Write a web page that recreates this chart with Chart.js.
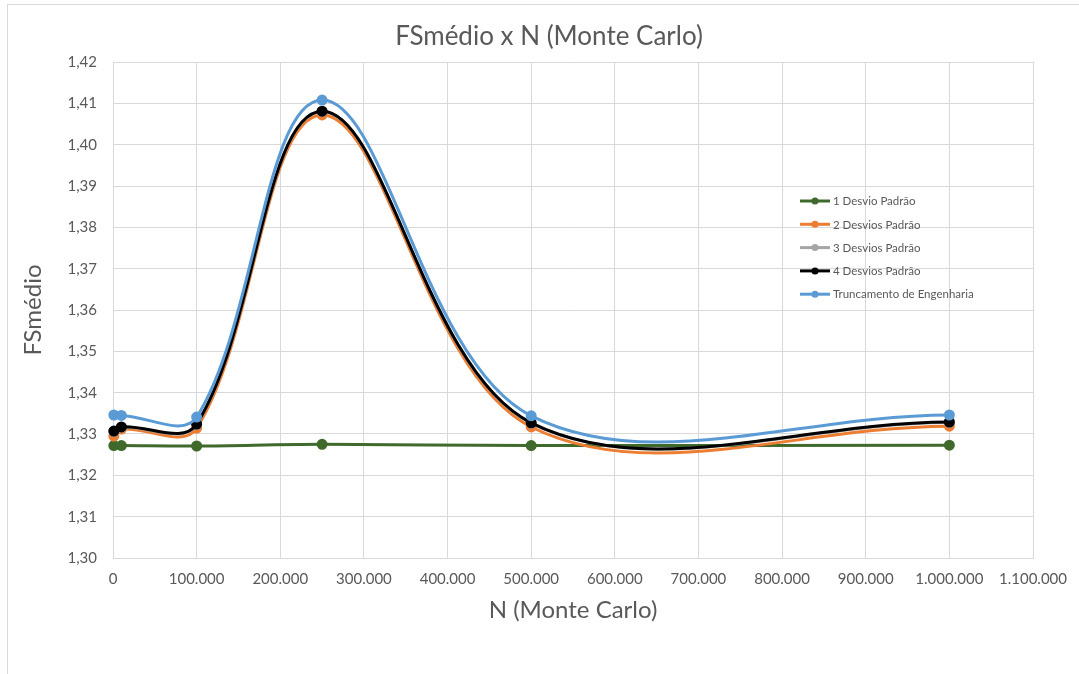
<!DOCTYPE html>
<html>
<head>
<meta charset="utf-8">
<script src="https://cdn.jsdelivr.net/npm/chart.js@4"></script>
<style>
  body { margin: 0; background: #fff; }
  #wrap { position: relative; width: 1079px; height: 674px; }
  #frame { position: absolute; left: 7px; top: 4px; width: 1100px; height: 700px;
           border-left: 1px solid #d9d9d9; border-top: 1px solid #d9d9d9; }
</style>
</head>
<body>
<div id="wrap">
  <div id="frame"></div>
  <canvas id="chart" width="1079" height="674"></canvas>
</div>
<script>
// DATA
const nValues = [1000, 10000, 100000, 250000, 500000, 1000000];
const seriesNames = ["1 Desvio Padrão", "2 Desvios Padrão", "3 Desvios Padrão", "4 Desvios Padrão", "Truncamento de Engenharia"];
const umDesvio = [1.3272, 1.3272, 1.3271, 1.3275, 1.3272, 1.3273];
const doisDesvios = [1.3295, 1.3312, 1.3314, 1.4072, 1.3317, 1.3319];
const tresDesvios = [1.3306, 1.3316, 1.3323, 1.4080, 1.3326, 1.3328];
const quatroDesvios = [1.3307, 1.3317, 1.3324, 1.4081, 1.3327, 1.3329];
const truncamento = [1.3346, 1.3345, 1.3341, 1.4108, 1.3344, 1.3346];
const seriesColors = ["#3f6a2c", "#ED7D31", "#A5A5A5", "#000000", "#5B9BD5"];

const allSeries = [umDesvio, doisDesvios, tresDesvios, quatroDesvios, truncamento];
const textColor = "#595959";
const fontName = "Lato";

const toPoints = (vals) => vals.map((v, i) => ({x: nValues[i], y: v}));

const fmtThousands = (v) => String(Math.round(v)).replace(/\B(?=(\d{3})+(?!\d))/g, ".");

// legend drawn inside the plot, like the Excel one
const insideLegend = {
  id: "insideLegend",
  afterDraw(chart) {
    const ctx = chart.ctx;
    const area = chart.chartArea;
    const x0 = area.left + 687;
    let y = area.top + 139;
    ctx.save();
    ctx.font = "11.5px " + fontName;
    ctx.textBaseline = "middle";
    chart.data.datasets.forEach(ds => {
      ctx.strokeStyle = ds.borderColor;
      ctx.lineWidth = 3;
      ctx.beginPath();
      ctx.moveTo(x0, y);
      ctx.lineTo(x0 + 30, y);
      ctx.stroke();
      ctx.fillStyle = ds.borderColor;
      ctx.beginPath();
      ctx.arc(x0 + 15, y, 3.5, 0, Math.PI * 2);
      ctx.fill();
      ctx.fillStyle = textColor;
      ctx.fillText(ds.label, x0 + 33, y + 0.5);
      y += 23.3;
    });
    ctx.restore();
  }
};

const datasets = allSeries.map((vals, i) => ({
  label: seriesNames[i],
  data: toPoints(vals),
  borderColor: seriesColors[i],
  backgroundColor: seriesColors[i],
  borderWidth: 3,
  pointRadius: 4,
  pointHoverRadius: 4,
  tension: 0.36,
  clip: false,
  order: allSeries.length - i
}));

new Chart("chart", {
  type: "line",
  data: { datasets: datasets },
  plugins: [insideLegend],
  options: {
    responsive: false,
    animation: false,
    layout: { padding: { left: 19, right: 0, top: 0, bottom: 0 } },
    plugins: {
      legend: { display: false },
      tooltip: { enabled: false },
      title: {
        display: true,
        text: "FSmédio x N (Monte Carlo)",
        color: textColor,
        font: { family: fontName, size: 26, weight: "normal", lineHeight: 1.1 },
        padding: { top: 22.7, bottom: 10.7 }
      }
    },
    scales: {
      x: {
        type: "linear",
        min: 0,
        max: 1100000,
        afterFit: s => { s.height = 116; s.paddingRight = 46; },
        grid: { color: "#d9d9d9", drawTicks: false },
        border: { color: "#d9d9d9" },
        ticks: {
          stepSize: 100000,
          padding: 12,
          color: textColor,
          font: { family: fontName, size: 15 },
          maxRotation: 0,
          callback: v => fmtThousands(v)
        },
        title: {
          display: true,
          text: "N (Monte Carlo)",
          color: textColor,
          font: { family: fontName, size: 24, lineHeight: 1.2 },
          padding: { top: 0, bottom: 49.6 }
        }
      },
      y: {
        min: 1.30,
        max: 1.42,
        afterFit: s => { s.width = 94; },
        grid: { color: "#d9d9d9", drawTicks: false },
        border: { color: "#d9d9d9" },
        ticks: {
          stepSize: 0.01,
          padding: 16,
          color: textColor,
          font: { family: fontName, size: 15 },
          callback: v => v.toFixed(2).replace(".", ",")
        },
        title: {
          display: true,
          text: "FSmédio",
          color: textColor,
          font: { family: fontName, size: 24, lineHeight: 1.2 },
          padding: { top: 0, bottom: 0 }
        }
      }
    }
  }
});
</script>
</body>
</html>
